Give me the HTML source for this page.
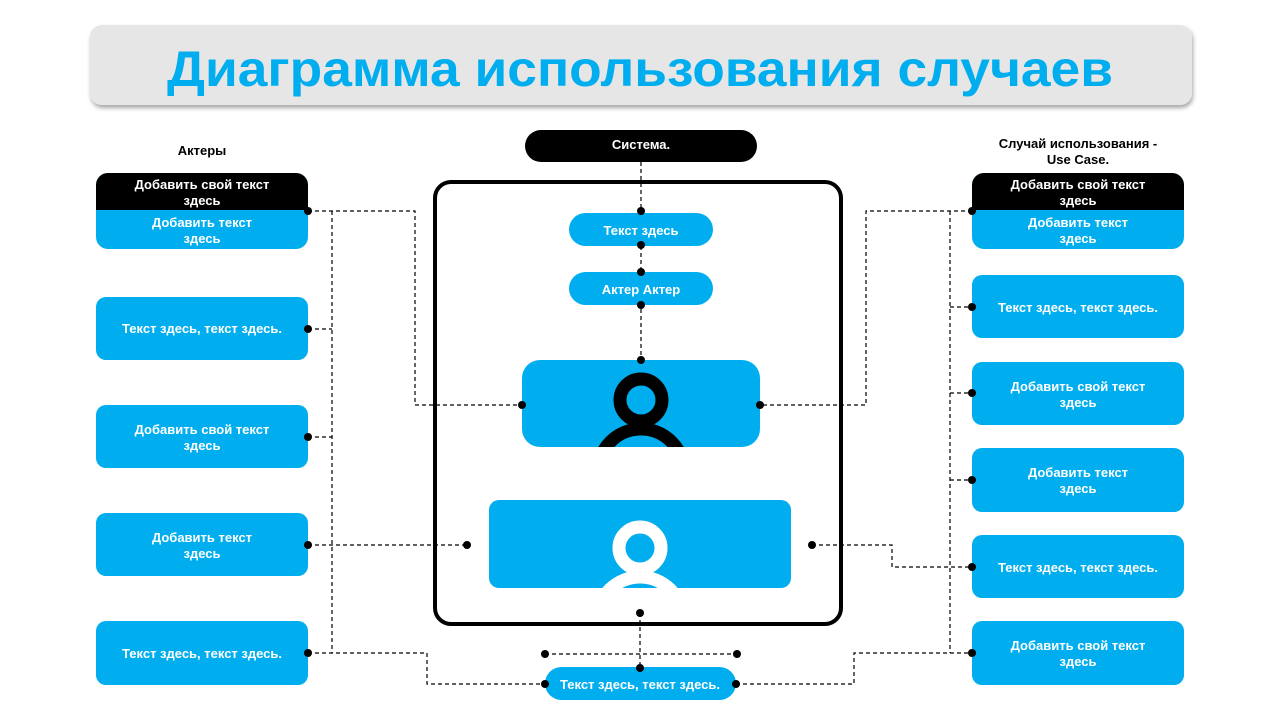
<!DOCTYPE html>
<html><head><meta charset="utf-8"><style>
html,body{margin:0;padding:0;background:#fff;}
svg{display:block;font-family:"Liberation Sans","Noto Sans CJK SC",sans-serif;font-weight:bold;}
</style></head><body>
<svg width="1280" height="720" viewBox="0 0 1280 720" xmlns="http://www.w3.org/2000/svg">
<defs>
<filter id="sh" x="-5%" y="-20%" width="110%" height="150%"><feDropShadow dx="1" dy="3" stdDeviation="2" flood-color="#000" flood-opacity="0.35"/></filter>
<clipPath id="c1"><rect x="522" y="360" width="238" height="87" rx="18"/></clipPath>
<clipPath id="c2"><rect x="489" y="500" width="302" height="88" rx="10"/></clipPath>
</defs>
<rect x="90" y="25" width="1102" height="80" rx="12" fill="#e6e6e6" filter="url(#sh)"/>
<text x="640" y="86" font-size="50" fill="#00aeef" text-anchor="middle" textLength="946" lengthAdjust="spacingAndGlyphs">Диаграмма использования случаев</text>

<g stroke="#000" stroke-width="1.2" stroke-dasharray="4,3" fill="none">
<polyline points="308,211 415,211 415,405 522,405"/>
<line x1="332" y1="211" x2="332" y2="653"/>
<line x1="308" y1="329" x2="332" y2="329"/>
<line x1="308" y1="437" x2="332" y2="437"/>
<line x1="308" y1="545" x2="467" y2="545"/>
<polyline points="308,653 427,653 427,684 545,684"/>
<polyline points="972,211 866,211 866,405 760,405"/>
<line x1="950" y1="211" x2="950" y2="653"/>
<line x1="950" y1="307" x2="972" y2="307"/>
<line x1="950" y1="393" x2="972" y2="393"/>
<line x1="950" y1="480" x2="972" y2="480"/>
<polyline points="812,545 892,545 892,567 972,567"/>
<polyline points="736,684 854,684 854,653 972,653"/>
<line x1="641" y1="162" x2="641" y2="360"/>
<line x1="640" y1="613" x2="640" y2="668"/>
<line x1="545" y1="654" x2="737" y2="654"/>
</g>

<rect x="435" y="182" width="406" height="442" rx="16" fill="none" stroke="#000" stroke-width="4"/>
<rect x="525" y="130" width="232" height="32" rx="16" fill="#000"/>
<text x="641" y="149" font-size="13" fill="#fff" text-anchor="middle">Система.</text>

<rect x="569" y="213" width="144" height="33" rx="16.5" fill="#00aeef"/>
<text x="641" y="235" font-size="13" fill="#fff" text-anchor="middle">Текст здесь</text>
<rect x="569" y="272" width="144" height="33" rx="16.5" fill="#00aeef"/>
<text x="641" y="294" font-size="13" fill="#fff" text-anchor="middle">Актер Актер</text>

<rect x="522" y="360" width="238" height="87" rx="18" fill="#00aeef"/>
<g clip-path="url(#c1)" fill="none" stroke="#000" stroke-width="13">
<circle cx="641" cy="400" r="21"/>
<circle cx="641" cy="472" r="43"/>
</g>
<rect x="489" y="500" width="302" height="88" rx="10" fill="#00aeef"/>
<g clip-path="url(#c2)" fill="none" stroke="#fff" stroke-width="13">
<circle cx="640" cy="548" r="21"/>
<circle cx="640" cy="620" r="43"/>
</g>

<rect x="545" y="667" width="191" height="33" rx="16.5" fill="#00aeef"/>
<text x="640" y="689" font-size="13" fill="#fff" text-anchor="middle">Текст здесь, текст здесь.</text>

<text x="202" y="155" font-size="13" fill="#000" text-anchor="middle">Актеры</text>
<rect x="96" y="173" width="212" height="76" rx="12" fill="#00aeef"/>
<path d="M96,210 V185 a12,12 0 0 1 12,-12 H296 a12,12 0 0 1 12,12 V210 Z" fill="#000"/>
<g font-size="13" fill="#fff" text-anchor="middle">
<text x="202" y="189">Добавить свой текст</text><text x="202" y="205">здесь</text>
<text x="202" y="227">Добавить текст</text><text x="202" y="243">здесь</text>
</g>
<g fill="#00aeef">
<rect x="96" y="297" width="212" height="63" rx="10"/>
<rect x="96" y="405" width="212" height="63" rx="10"/>
<rect x="96" y="513" width="212" height="63" rx="10"/>
<rect x="96" y="621" width="212" height="64" rx="10"/>
</g>
<g font-size="13" fill="#fff" text-anchor="middle">
<text x="202" y="333">Текст здесь, текст здесь.</text>
<text x="202" y="434">Добавить свой текст</text><text x="202" y="450">здесь</text>
<text x="202" y="542">Добавить текст</text><text x="202" y="558">здесь</text>
<text x="202" y="658">Текст здесь, текст здесь.</text>
</g>

<text x="1078" y="148" font-size="13" fill="#000" text-anchor="middle">Случай использования -</text>
<text x="1078" y="164" font-size="13" fill="#000" text-anchor="middle">Use Case.</text>
<rect x="972" y="173" width="212" height="76" rx="12" fill="#00aeef"/>
<path d="M972,210 V185 a12,12 0 0 1 12,-12 H1172 a12,12 0 0 1 12,12 V210 Z" fill="#000"/>
<g font-size="13" fill="#fff" text-anchor="middle">
<text x="1078" y="189">Добавить свой текст</text><text x="1078" y="205">здесь</text>
<text x="1078" y="227">Добавить текст</text><text x="1078" y="243">здесь</text>
</g>
<g fill="#00aeef">
<rect x="972" y="275" width="212" height="63" rx="10"/>
<rect x="972" y="362" width="212" height="63" rx="10"/>
<rect x="972" y="448" width="212" height="64" rx="10"/>
<rect x="972" y="535" width="212" height="63" rx="10"/>
<rect x="972" y="621" width="212" height="64" rx="10"/>
</g>
<g font-size="13" fill="#fff" text-anchor="middle">
<text x="1078" y="312">Текст здесь, текст здесь.</text>
<text x="1078" y="391">Добавить свой текст</text><text x="1078" y="407">здесь</text>
<text x="1078" y="477">Добавить текст</text><text x="1078" y="493">здесь</text>
<text x="1078" y="572">Текст здесь, текст здесь.</text>
<text x="1078" y="650">Добавить свой текст</text><text x="1078" y="666">здесь</text>
</g>

<g fill="#000">
<circle cx="308" cy="211" r="4"/><circle cx="308" cy="329" r="4"/><circle cx="308" cy="437" r="4"/>
<circle cx="308" cy="545" r="4"/><circle cx="308" cy="653" r="4"/>
<circle cx="972" cy="211" r="4"/><circle cx="972" cy="307" r="4"/><circle cx="972" cy="393" r="4"/>
<circle cx="972" cy="480" r="4"/><circle cx="972" cy="567" r="4"/><circle cx="972" cy="653" r="4"/>
<circle cx="522" cy="405" r="4"/><circle cx="760" cy="405" r="4"/>
<circle cx="467" cy="545" r="4"/><circle cx="812" cy="545" r="4"/>
<circle cx="641" cy="211" r="4"/><circle cx="641" cy="245" r="4"/><circle cx="641" cy="272" r="4"/>
<circle cx="641" cy="305" r="4"/><circle cx="641" cy="360" r="4"/>
<circle cx="640" cy="613" r="4"/><circle cx="640" cy="668" r="4"/>
<circle cx="545" cy="654" r="4"/><circle cx="737" cy="654" r="4"/>
<circle cx="545" cy="684" r="4"/><circle cx="736" cy="684" r="4"/>
</g>
</svg>
</body></html>
